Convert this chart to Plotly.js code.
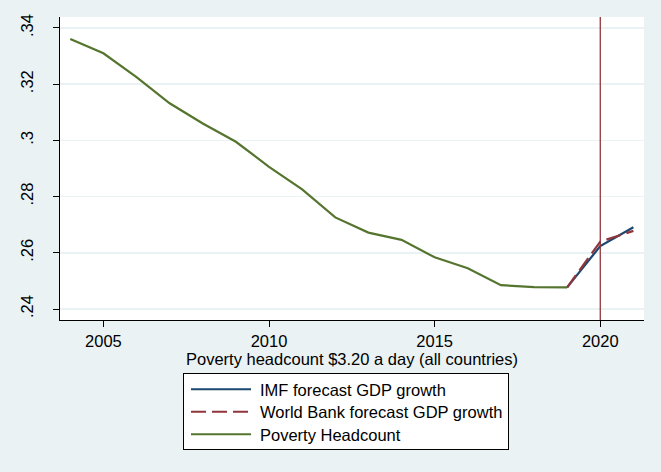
<!DOCTYPE html>
<html>
<head>
<meta charset="utf-8">
<script src="https://cdn.plot.ly/plotly-3.0.1.min.js"></script>
<style>html,body{margin:0;padding:0;background:#EAF2F3;}#chart{width:661px;height:472px;}</style>
</head>
<body>
<div id="chart"></div>
<script>
// Data
const povertyYears = [2004, 2005, 2006, 2007, 2008, 2009, 2010, 2011, 2012, 2013, 2014, 2015, 2016, 2017, 2018, 2019];
const povertyHeadcount = [0.3361, 0.3310, 0.3225, 0.3132, 0.3060, 0.2995, 0.2906, 0.2826, 0.2726, 0.2672, 0.2646, 0.2584, 0.2545, 0.2485, 0.2478, 0.2477];
const forecastYears = [2019, 2020, 2021];
const imfForecast = [0.2477, 0.2624, 0.2691];
const worldBankForecast = [0.2477, 0.2640, 0.2678];
const xTickVals = [2005, 2010, 2015, 2020];
const yTickVals = [0.24, 0.26, 0.28, 0.30, 0.32, 0.34];
const yTickText = [".24", ".26", ".28", ".3", ".32", ".34"];
const markerYear = 2020;
const seriesNames = ["IMF forecast GDP growth", "World Bank forecast GDP growth", "Poverty Headcount"];
const xTitle = "Poverty headcount $3.20 a day (all countries)";

const FONT = "Liberation Sans, Arial, sans-serif";
const FS = 16.5;

const traces = [
  {x: forecastYears, y: imfForecast, name: seriesNames[0], type: "scatter", mode: "lines",
   line: {color: "#1a476f", width: 2.2}},
  {x: forecastYears, y: worldBankForecast, name: seriesNames[1], type: "scatter", mode: "lines",
   line: {color: "#90353b", width: 2.2, dash: "15px,6px"}},
  {x: povertyYears, y: povertyHeadcount, name: seriesNames[2], type: "scatter", mode: "lines",
   line: {color: "#55752f", width: 2.2}}
];

const layout = {
  width: 661, height: 472,
  paper_bgcolor: "#EAF2F3",
  plot_bgcolor: "#FFFFFF",
  font: {family: FONT, size: FS, color: "#000"},
  margin: {l: 60, r: 17, t: 17, b: 152, pad: 0},
  showlegend: true,
  legend: {
    x: 0.2106, y: -0.175, xanchor: "left", yanchor: "top",
    bgcolor: "#FFFFFF", bordercolor: "#000000", borderwidth: 1,
    font: {family: FONT, size: FS, color: "#000"},
    traceorder: "normal", tracegroupgap: 0, itemwidth: 66
  },
  xaxis: {
    range: [2003.69, 2021.32],
    tickvals: xTickVals,
    ticks: "outside", ticklen: 6, tickcolor: "#000", tickwidth: 1,
    showline: true, linecolor: "#000", linewidth: 1,
    showgrid: false, zeroline: false,
    tickfont: {family: FONT, size: FS},
    title: {text: xTitle, font: {family: FONT, size: FS}, standoff: 0}
  },
  yaxis: {
    range: [0.2361, 0.3439],
    tickvals: yTickVals, ticktext: yTickText,
    tickangle: -90,
    ticks: "outside", ticklen: 6, tickcolor: "#000", tickwidth: 1,
    ticklabelstandoff: 13,
    showline: true, linecolor: "#000", linewidth: 1,
    showgrid: true, gridcolor: "#EAF2F3", gridwidth: 1.5,
    zeroline: false,
    tickfont: {family: FONT, size: FS}
  },
  shapes: [
    {type: "line", xref: "x", yref: "paper", x0: markerYear, x1: markerYear, y0: 0, y1: 1,
     line: {color: "#90353b", width: 1.3}, layer: "above"}
  ]
};

Plotly.newPlot("chart", traces, layout, {staticPlot: true, displayModeBar: false}).then(function () {
  // lengthen legend line samples to match the reference key
  document.querySelectorAll("#chart .legend .legendlines path").forEach(function (p) {
    p.setAttribute("d", "M7,0h60");
  });
  // tighten legend row spacing to the reference's
  const items = document.querySelectorAll("#chart .legend .traces");
  const ROW = 22.5;
  let y0 = null;
  items.forEach(function (g, i) {
    const t = g.getAttribute("transform") || "";
    const m = t.match(/translate\(\s*([-\d.]+)[ ,]+([-\d.]+)\s*\)/);
    if (!m) return;
    const x = parseFloat(m[1]), y = parseFloat(m[2]);
    if (y0 === null) y0 = y - 2;
    g.setAttribute("transform", "translate(" + x + "," + (y0 + i * ROW) + ")");
  });
  const bg = document.querySelector("#chart .legend rect.bg");
  if (bg) {
    bg.setAttribute("height", 76);
  }
});
</script>
</body>
</html>
